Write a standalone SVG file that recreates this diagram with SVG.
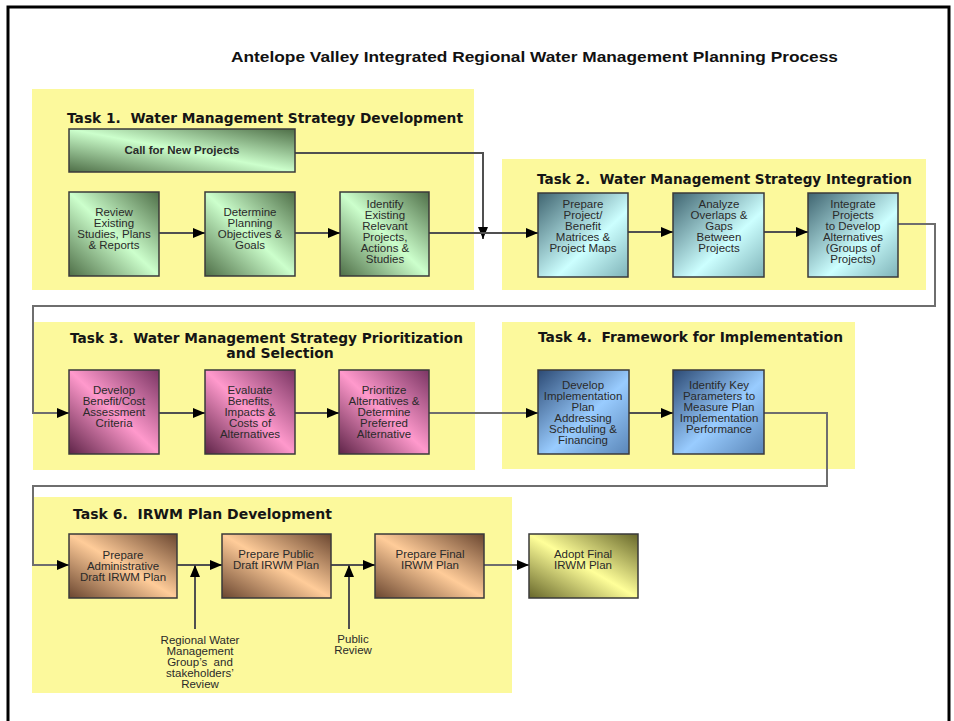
<svg xmlns="http://www.w3.org/2000/svg" width="954" height="721" viewBox="0 0 954 721">
<defs>
<style>
.panel{fill:#FCF99C}
.box{stroke:#3a3a3a;stroke-width:1.5}
.t{font-family:"Liberation Sans",Arial,sans-serif;font-size:11.5px;fill:#2a2a2a;text-anchor:middle}
.tb{font-family:"Liberation Sans",Arial,sans-serif;font-size:11.5px;font-weight:bold;fill:#2a2a2a;text-anchor:middle}
.h{font-family:"DejaVu Sans","Liberation Sans",sans-serif;font-size:14px;font-weight:bold;fill:#151515}
.title{font-family:"Liberation Sans",Arial,sans-serif;font-size:15px;font-weight:bold;fill:#111}
.c{fill:none;stroke:#505050;stroke-width:2}
.cl{fill:none;stroke:#6e6e6e;stroke-width:2}
</style>
<marker id="ah" viewBox="0 0 12 10" refX="12" refY="5" markerWidth="12" markerHeight="10" markerUnits="userSpaceOnUse" orient="auto">
<path d="M0,0 L12,5 L0,10 Z" fill="#000"/>
</marker>
<linearGradient id="gGreen" x1="0" y1="1" x2="1" y2="0">
<stop offset="0" stop-color="#4E6E47"/><stop offset="0.5" stop-color="#CCFFCC"/><stop offset="1" stop-color="#4E6E47"/>
</linearGradient>
<linearGradient id="gCyan" x1="0" y1="0" x2="1" y2="1">
<stop offset="0" stop-color="#3F6470"/><stop offset="0.6" stop-color="#CCFFFF"/><stop offset="1" stop-color="#7FB3B8"/>
</linearGradient>
<linearGradient id="gPink" x1="0" y1="1" x2="1" y2="0">
<stop offset="0" stop-color="#5E2448"/><stop offset="0.5" stop-color="#FF99CC"/><stop offset="1" stop-color="#7A3563"/>
</linearGradient>
<linearGradient id="gBlue" x1="0" y1="0" x2="1" y2="1">
<stop offset="0" stop-color="#2C4A74"/><stop offset="0.55" stop-color="#99CCFF"/><stop offset="1" stop-color="#5A86B8"/>
</linearGradient>
<linearGradient id="gPeach" x1="0" y1="1" x2="1" y2="0">
<stop offset="0" stop-color="#6A4630"/><stop offset="0.5" stop-color="#FFCC99"/><stop offset="1" stop-color="#6A4630"/>
</linearGradient>
<linearGradient id="gYellow" x1="0" y1="1" x2="1" y2="0">
<stop offset="0" stop-color="#66662A"/><stop offset="0.5" stop-color="#FFFF99"/><stop offset="1" stop-color="#66662A"/>
</linearGradient>
</defs>

<rect x="0" y="0" width="954" height="721" fill="#fff"/>
<rect x="8" y="7" width="941" height="730" fill="none" stroke="#000" stroke-width="3"/>

<text class="title" x="231" y="62" textLength="607" lengthAdjust="spacingAndGlyphs">Antelope Valley Integrated Regional Water Management Planning Process</text>

<g id="task1">
<rect class="panel" x="32" y="89" width="442" height="201"/>
<text class="h" x="67" y="123" textLength="396" lengthAdjust="spacingAndGlyphs">Task 1.&#160; Water Management Strategy Development</text>
</g>
<g id="task2">
<rect class="panel" x="502" y="159" width="424" height="131"/>
<text class="h" x="537" y="184" textLength="375" lengthAdjust="spacingAndGlyphs">Task 2.&#160; Water Management Strategy Integration</text>
</g>
<g id="task3">
<rect class="panel" x="33" y="322" width="442" height="148"/>
<text class="h" x="70" y="343" textLength="393" lengthAdjust="spacingAndGlyphs">Task 3.&#160; Water Management Strategy Prioritization</text>
<text class="h" x="280" y="358" text-anchor="middle">and Selection</text>
</g>
<g id="task4">
<rect class="panel" x="502" y="322" width="353" height="147"/>
<text class="h" x="538" y="342" textLength="305" lengthAdjust="spacingAndGlyphs">Task 4.&#160; Framework for Implementation</text>
</g>
<g id="task6">
<rect class="panel" x="32" y="497" width="480" height="196"/>
<text class="h" x="73" y="519" textLength="259" lengthAdjust="spacingAndGlyphs">Task 6.&#160; IRWM Plan Development</text>
</g>

<g id="connectors">
<path class="c" d="M295,153 H483 V239" marker-end="url(#ah)"/>
<path class="c" d="M159,233 H205" marker-end="url(#ah)"/>
<path class="c" d="M295,233 H340" marker-end="url(#ah)"/>
<path class="c" d="M429,233 H538" marker-end="url(#ah)"/>
<path class="c" d="M628,232 H673" marker-end="url(#ah)"/>
<path class="c" d="M764,232 H808" marker-end="url(#ah)"/>
<path class="cl" d="M898,224 H935 V306 H33 V413 H69" marker-end="url(#ah)"/>
<path class="c" d="M159,413 H205" marker-end="url(#ah)"/>
<path class="c" d="M295,413 H339" marker-end="url(#ah)"/>
<path class="cl" d="M429,413 H538" marker-end="url(#ah)"/>
<path class="c" d="M629,413 H673" marker-end="url(#ah)"/>
<path class="cl" d="M764,413 H827 V486 H33 V565 H69" marker-end="url(#ah)"/>
<path class="c" d="M177,565 H222" marker-end="url(#ah)"/>
<path class="c" d="M331,565 H375" marker-end="url(#ah)"/>
<path class="cl" d="M484,565 H529" marker-end="url(#ah)"/>
<path class="c" d="M195,629 V565" marker-end="url(#ah)"/>
<path class="c" d="M349,629 V565" marker-end="url(#ah)"/>
</g>

<g id="call-new-projects">
<rect class="box" x="69" y="129" width="226" height="43" fill="url(#gGreen)"/>
<text class="tb" x="182" y="154">Call for New Projects</text>
</g>
<g id="review-existing">
<rect class="box" x="69" y="192" width="90" height="84" fill="url(#gGreen)"/>
<text class="t" x="114" y="216">Review</text>
<text class="t" x="114" y="227">Existing</text>
<text class="t" x="114" y="238">Studies, Plans</text>
<text class="t" x="114" y="249">&amp; Reports</text>
</g>
<g id="determine-objectives">
<rect class="box" x="205" y="192" width="90" height="84" fill="url(#gGreen)"/>
<text class="t" x="250" y="216">Determine</text>
<text class="t" x="250" y="227">Planning</text>
<text class="t" x="250" y="238">Objectives &amp;</text>
<text class="t" x="250" y="249">Goals</text>
</g>
<g id="identify-existing">
<rect class="box" x="340" y="192" width="89" height="84" fill="url(#gGreen)"/>
<text class="t" x="385" y="208">Identify</text>
<text class="t" x="385" y="219">Existing</text>
<text class="t" x="385" y="230">Relevant</text>
<text class="t" x="385" y="241">Projects,</text>
<text class="t" x="385" y="252">Actions &amp;</text>
<text class="t" x="385" y="263">Studies</text>
</g>

<g id="prepare-matrices">
<rect class="box" x="538" y="193" width="90" height="84" fill="url(#gCyan)"/>
<text class="t" x="583" y="208">Prepare</text>
<text class="t" x="583" y="219">Project/</text>
<text class="t" x="583" y="230">Benefit</text>
<text class="t" x="583" y="241">Matrices &amp;</text>
<text class="t" x="583" y="252">Project Maps</text>
</g>
<g id="analyze-overlaps">
<rect class="box" x="673" y="193" width="91" height="84" fill="url(#gCyan)"/>
<text class="t" x="719" y="208">Analyze</text>
<text class="t" x="719" y="219">Overlaps &amp;</text>
<text class="t" x="719" y="230">Gaps</text>
<text class="t" x="719" y="241">Between</text>
<text class="t" x="719" y="252">Projects</text>
</g>
<g id="integrate-projects">
<rect class="box" x="808" y="193" width="90" height="84" fill="url(#gCyan)"/>
<text class="t" x="853" y="208">Integrate</text>
<text class="t" x="853" y="219">Projects</text>
<text class="t" x="853" y="230">to Develop</text>
<text class="t" x="853" y="241">Alternatives</text>
<text class="t" x="853" y="252">(Groups of</text>
<text class="t" x="853" y="263">Projects)</text>
</g>

<g id="develop-criteria">
<rect class="box" x="69" y="370" width="90" height="84" fill="url(#gPink)"/>
<text class="t" x="114" y="394">Develop</text>
<text class="t" x="114" y="405">Benefit/Cost</text>
<text class="t" x="114" y="416">Assessment</text>
<text class="t" x="114" y="427">Criteria</text>
</g>
<g id="evaluate-benefits">
<rect class="box" x="205" y="370" width="90" height="84" fill="url(#gPink)"/>
<text class="t" x="250" y="394">Evaluate</text>
<text class="t" x="250" y="405">Benefits,</text>
<text class="t" x="250" y="416">Impacts &amp;</text>
<text class="t" x="250" y="427">Costs of</text>
<text class="t" x="250" y="438">Alternatives</text>
</g>
<g id="prioritize-alternatives">
<rect class="box" x="339" y="370" width="90" height="84" fill="url(#gPink)"/>
<text class="t" x="384" y="394">Prioritize</text>
<text class="t" x="384" y="405">Alternatives &amp;</text>
<text class="t" x="384" y="416">Determine</text>
<text class="t" x="384" y="427">Preferred</text>
<text class="t" x="384" y="438">Alternative</text>
</g>

<g id="develop-implementation">
<rect class="box" x="538" y="370" width="91" height="84" fill="url(#gBlue)"/>
<text class="t" x="583" y="389">Develop</text>
<text class="t" x="583" y="400">Implementation</text>
<text class="t" x="583" y="411">Plan</text>
<text class="t" x="583" y="422">Addressing</text>
<text class="t" x="583" y="433">Scheduling &amp;</text>
<text class="t" x="583" y="444">Financing</text>
</g>
<g id="identify-parameters">
<rect class="box" x="673" y="370" width="91" height="84" fill="url(#gBlue)"/>
<text class="t" x="719" y="389">Identify Key</text>
<text class="t" x="719" y="400">Parameters to</text>
<text class="t" x="719" y="411">Measure Plan</text>
<text class="t" x="719" y="422">Implementation</text>
<text class="t" x="719" y="433">Performance</text>
</g>

<g id="prepare-admin-draft">
<rect class="box" x="69" y="534" width="108" height="64" fill="url(#gPeach)"/>
<text class="t" x="123" y="559">Prepare</text>
<text class="t" x="123" y="570">Administrative</text>
<text class="t" x="123" y="581">Draft IRWM Plan</text>
</g>
<g id="prepare-public-draft">
<rect class="box" x="222" y="534" width="109" height="64" fill="url(#gPeach)"/>
<text class="t" x="276" y="558">Prepare Public</text>
<text class="t" x="276" y="569">Draft IRWM Plan</text>
</g>
<g id="prepare-final">
<rect class="box" x="375" y="534" width="109" height="64" fill="url(#gPeach)"/>
<text class="t" x="430" y="558">Prepare Final</text>
<text class="t" x="430" y="569">IRWM Plan</text>
</g>
<g id="adopt-final">
<rect class="box" x="529" y="534" width="109" height="64" fill="url(#gYellow)"/>
<text class="t" x="583" y="558">Adopt Final</text>
<text class="t" x="583" y="569">IRWM Plan</text>
</g>

<g id="stakeholder-review">
<text class="t" x="200" y="644">Regional Water</text>
<text class="t" x="200" y="655">Management</text>
<text class="t" x="200" y="666">Group’s&#160; and</text>
<text class="t" x="200" y="677">stakeholders’</text>
<text class="t" x="200" y="688">Review</text>
</g>
<g id="public-review">
<text class="t" x="353" y="643">Public</text>
<text class="t" x="353" y="654">Review</text>
</g>
</svg>
